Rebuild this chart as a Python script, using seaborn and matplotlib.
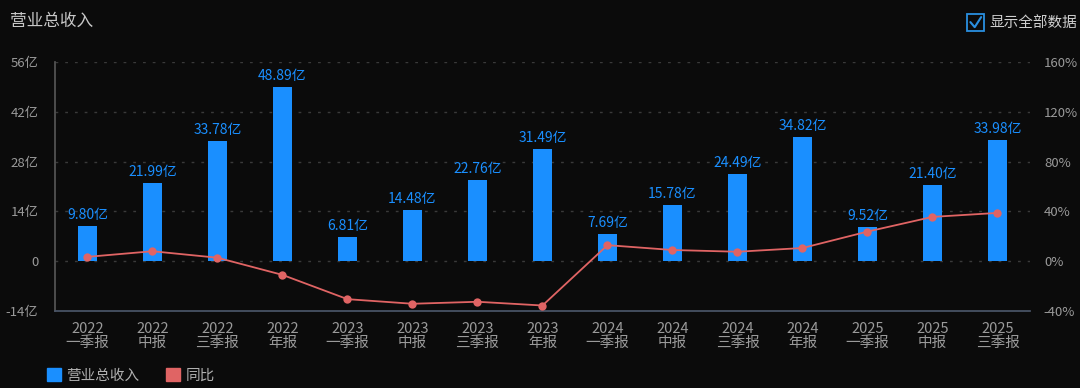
import matplotlib
matplotlib.use("Agg")
import matplotlib.pyplot as plt
import numpy as np
import pandas as pd
import seaborn as sns
from matplotlib.lines import Line2D
from matplotlib.patches import Patch, Rectangle

# data
periods = ["2022\n一季报", "2022\n中报", "2022\n三季报", "2022\n年报",
           "2023\n一季报", "2023\n中报", "2023\n三季报", "2023\n年报",
           "2024\n一季报", "2024\n中报", "2024\n三季报", "2024\n年报",
           "2025\n一季报", "2025\n中报", "2025\n三季报"]
revenue = [9.80, 21.99, 33.78, 48.89, 6.81, 14.48, 22.76, 31.49,
           7.69, 15.78, 24.49, 34.82, 9.52, 21.40, 33.98]
yoy = [3.5, 8.0, 2.8, -11.0, -30.5, -34.2, -32.6, -35.6,
       12.9, 9.0, 7.6, 10.6, 23.8, 35.6, 38.8]
left_ticks = [-14, 0, 14, 28, 42, 56]
right_ticks = [-40, 0, 40, 80, 120, 160]

BG = "#0b0b0b"
BLUE = "#1a8fff"
RED = "#e06464"
TICK = "#9a9a9a"

sns.set_theme(style="dark")
plt.rcParams["font.family"] = ["Noto Sans CJK SC", "DejaVu Sans"]

df = pd.DataFrame({"period": periods, "revenue": revenue, "yoy": yoy,
                   "idx": np.arange(len(periods))})

fig = plt.figure(figsize=(10.8, 3.88), dpi=100, facecolor=BG)
ax = fig.add_axes([0.0509, 0.1985, 0.9028, 0.6415])
ax.set_facecolor(BG)

sns.barplot(data=df, x="period", y="revenue", color=BLUE, width=0.3,
            saturation=1, linewidth=0, edgecolor=BLUE, ax=ax)
ax.set_xlim(-0.5, len(periods) - 0.5)
ax.set_ylim(-14, 56)
ax.set_yticks(left_ticks)
ax.set_yticklabels([f"{t}亿" if t != 0 else "0" for t in left_ticks])
ax.set_xlabel("")
ax.set_ylabel("")
ax.grid(False)
for t in left_ticks[1:]:
    ax.axhline(t, color="#3a3a3a", lw=1, ls=(0, (2, 5)), zorder=0)
ax.tick_params(axis="x", colors=TICK, labelsize=10.5, length=0, pad=8)
ax.tick_params(axis="y", colors=TICK, labelsize=9.5, length=0, pad=12)
for lbl in ax.get_xticklabels():
    lbl.set_linespacing(1.0)

for sp in ax.spines.values():
    sp.set_visible(False)
ax.spines["left"].set_visible(True)
ax.spines["left"].set_color("#555555")
ax.spines["bottom"].set_visible(True)
ax.spines["bottom"].set_color("#4a5568")

for i, v in enumerate(revenue):
    ax.text(i, v + 1.1, f"{v:.2f}亿", ha="center", va="bottom",
            color=BLUE, fontsize=10)

ax2 = ax.twinx()
sns.lineplot(data=df, x="idx", y="yoy", color=RED, lw=1.3, marker="o",
             markersize=6, markeredgewidth=0, ax=ax2)
ax2.set_ylim(-40, 160)
ax2.set_yticks(right_ticks)
ax2.set_yticklabels([f"{t}%" for t in right_ticks])
ax2.set_ylabel("")
ax2.set_xlabel("")
ax2.grid(False)
ax2.tick_params(axis="y", colors=TICK, labelsize=9.5, length=0, pad=10)
for sp in ax2.spines.values():
    sp.set_visible(False)

fig.text(0.009, 0.945, "营业总收入", color="#c8c8c8", fontsize=12,
         ha="left", va="center")

# checkbox in the top right
fig.patches.append(Rectangle((0.8955, 0.92), 0.0155, 0.043,
                             transform=fig.transFigure, fill=False,
                             edgecolor="#2a8fe0", lw=1.3))
fig.lines.append(Line2D([0.8985, 0.9025, 0.9085], [0.943, 0.93, 0.956],
                        transform=fig.transFigure, color="#2a8fe0", lw=1.5))
fig.text(0.9165, 0.941, "显示全部数据", color="#d0d0d0", fontsize=10.5,
         ha="left", va="center")

handles = [Patch(facecolor=BLUE, edgecolor=BLUE),
           Patch(facecolor=RED, edgecolor=RED)]
leg = fig.legend(handles, ["营业总收入", "同比"], loc="lower left",
                 bbox_to_anchor=(0.031, -0.02), ncol=2, frameon=False,
                 fontsize=10.5, handlelength=1.0, handleheight=1.0,
                 columnspacing=1.8, handletextpad=0.35)
for txt in leg.get_texts():
    txt.set_color("#b0b0b0")

fig.savefig("out.png", dpi=100, facecolor=BG)
